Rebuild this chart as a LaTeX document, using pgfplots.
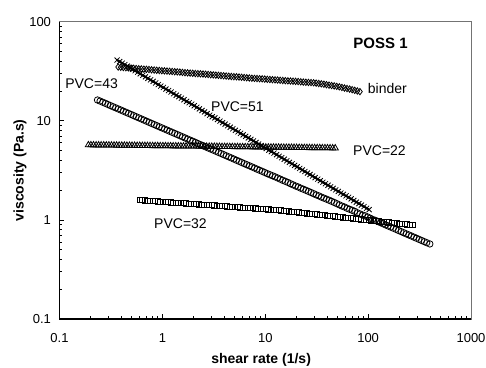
\documentclass[border=0pt]{standalone}
\usepackage{pgfplots}
\pgfplotsset{compat=1.18}
\usepackage{fontspec}
\setmainfont{Liberation Sans}
\begin{document}
\fontsize{13}{15}\selectfont
\begin{tikzpicture}
\begin{loglogaxis}[
  scale only axis,
  width=411.5pt, height=297.3pt,
  xmin=0.1, xmax=1000, ymin=0.1, ymax=100,
  xtick={0.1,1,10,100,1000}, xticklabels={0.1,1,10,100,1000},
  ytick={0.1,1,10,100}, yticklabels={0.1,1,10,100},
  tick align=inside, xtick pos=left, ytick pos=left,
  major tick length=5pt, minor tick length=3pt,
  tick style={black, line width=0.6pt},
  axis line style={draw=black!55, line width=0.8pt},
  xticklabel style={yshift=-10pt, font=\fontsize{13}{15}\selectfont},
  yticklabel style={xshift=-4pt, font=\fontsize{13}{15}\selectfont},
  /pgf/number format/assume math mode=true,
  xlabel={\bfseries shear rate (1/s)},
  ylabel={\bfseries viscosity (Pa.s)},
  xlabel style={at={(axis description cs:0.49,-0.138)}, anchor=center, font=\fontsize{14}{16}\selectfont},
  ylabel style={at={(axis description cs:-0.096,0.5)}, anchor=center, font=\fontsize{14}{16}\selectfont},
  clip=false,
]
% binder (diamonds)
\addplot[only marks, mark=diamond, mark size=3.2pt, mark options={line width=0.8pt}] coordinates {
(0.372,34.9)(0.417,34.5)(0.468,34.2)(0.525,33.9)(0.589,33.5)(0.661,33.2)(0.741,32.9)(0.832,32.5)
(0.933,32.2)(1.047,31.9)(1.175,31.6)(1.318,31.3)(1.479,31.0)(1.660,30.6)(1.862,30.3)(2.089,30.0)
(2.344,29.8)(2.630,29.5)(2.951,29.2)(3.311,28.9)(3.715,28.6)(4.169,28.3)(4.677,28.0)(5.248,27.8)
(5.888,27.5)(6.607,27.2)(7.413,26.9)(8.318,26.7)(9.333,26.5)(10.47,26.2)(11.75,26.0)(13.18,25.8)
(14.79,25.5)(16.60,25.3)(18.62,25.1)(20.89,24.9)(23.44,24.6)(26.30,24.4)(29.51,24.2)(33.11,23.8)
(37.15,23.4)(41.69,22.9)(46.77,22.5)(52.48,22.0)(58.88,21.4)(66.07,20.9)(74.13,20.3)(83.18,19.7)
(0.394,34.7)(0.442,34.35)(0.496,34.05)(0.556,33.7)(0.624,33.35)(0.700,33.05)(0.785,32.7)(0.881,32.35)
(0.988,32.05)(1.109,31.75)(1.245,31.45)(1.396,31.15)(1.567,30.8)(1.758,30.45)(1.972,30.15)(2.213,29.9)
(2.483,29.65)(2.786,29.35)(3.126,29.05)(3.507,28.75)(3.935,28.45)(4.416,28.15)(4.954,27.9)(5.559,27.65)
(6.237,27.35)(6.999,27.05)(7.853,26.8)(8.811,26.6)(9.886,26.35)(11.09,26.1)(12.45,25.9)(13.96,25.65)
(15.67,25.4)(17.58,25.2)(19.72,25.0)(22.13,24.75)(24.83,24.5)(27.86,24.3)(31.26,24.0)(35.07,23.6)
(39.35,23.15)(44.16,22.7)(49.54,22.25)(55.59,21.7)(62.37,21.15)(69.99,20.6)(78.53,20.0)
};
% PVC=51 line
\addplot[no marks, line width=2pt] coordinates {
(0.363,41.0)(0.912,23.2)(2.291,13.2)(5.754,7.48)(14.45,4.24)(36.31,2.40)(102.3,1.27)
};
% PVC=51 (x marks)
\addplot[only marks, mark=x, mark size=3.6pt, mark options={line width=0.8pt}] coordinates {
(0.363,41.0)(0.407,38.2)(0.457,35.6)(0.513,33.1)(0.575,30.9)(0.646,28.8)(0.724,26.8)(0.813,25.0)
(0.912,23.2)(1.023,21.7)(1.148,20.2)(1.288,18.8)(1.445,17.5)(1.622,16.3)(1.820,15.2)(2.042,14.2)
(2.291,13.2)(2.570,12.3)(2.884,11.4)(3.236,10.7)(3.631,9.93)(4.074,9.25)(4.571,8.61)(5.129,8.02)
(5.754,7.48)(6.457,6.97)(7.244,6.49)(8.128,6.04)(9.120,5.62)(10.23,5.25)(11.48,4.89)(12.88,4.55)
(14.45,4.24)(16.22,3.95)(18.20,3.68)(20.42,3.43)(22.91,3.19)(25.70,2.97)(28.84,2.77)(32.36,2.58)
(36.31,2.40)(40.74,2.24)(45.71,2.08)(51.29,1.94)(57.54,1.81)(64.57,1.69)(72.44,1.57)(81.28,1.46)
(91.20,1.36)(102.3,1.27)
(0.385,39.6)(0.431,36.9)(0.484,34.3)(0.543,32.0)(0.609,29.8)(0.684,27.8)(0.767,25.9)(0.861,24.1)
(0.966,22.4)(1.084,20.9)(1.216,19.5)(1.364,18.1)(1.531,16.9)(1.718,15.7)(1.928,14.7)(2.163,13.7)
(2.427,12.7)(2.722,11.8)(3.055,11.0)(3.428,10.3)(3.846,9.58)(4.316,8.92)(4.842,8.31)(5.433,7.74)
(6.095,7.22)(6.840,6.72)(7.674,6.26)(8.610,5.83)(9.661,5.43)(10.84,5.06)(12.16,4.72)(13.64,4.39)
(15.31,4.09)(17.18,3.81)(19.28,3.55)(21.63,3.31)(24.27,3.08)(27.22,2.87)(30.55,2.67)(34.28,2.49)
(38.46,2.32)(43.16,2.16)(48.42,2.01)(54.33,1.87)(60.95,1.75)(68.40,1.63)(76.74,1.51)(86.10,1.41)
(96.61,1.31)
};
% PVC=43 (circles)
\addplot[only marks, mark=o, mark size=3.2pt, mark options={line width=0.8pt}] coordinates {
(0.234,16.22)(0.263,15.40)(0.295,14.62)(0.331,13.88)(0.372,13.18)(0.417,12.52)(0.468,11.89)(0.525,11.29)
(0.589,10.72)(0.661,10.17)(0.741,9.66)(0.832,9.17)(0.933,8.71)(1.047,8.27)(1.175,7.85)(1.318,7.46)
(1.479,7.08)(1.660,6.72)(1.862,6.38)(2.089,6.06)(2.344,5.75)(2.630,5.46)(2.951,5.19)(3.311,4.93)
(3.715,4.68)(4.169,4.44)(4.677,4.22)(5.248,4.00)(5.888,3.80)(6.607,3.61)(7.413,3.43)(8.318,3.25)
(9.333,3.09)(10.47,2.93)(11.75,2.79)(13.18,2.65)(14.79,2.51)(16.60,2.39)(18.62,2.26)(20.89,2.15)
(23.44,2.04)(26.30,1.94)(29.51,1.84)(33.11,1.75)(37.15,1.66)(41.69,1.58)(46.77,1.50)(52.48,1.42)
(58.88,1.35)(66.07,1.28)(74.13,1.22)(83.18,1.15)(93.33,1.10)(104.7,1.04)(117.5,0.989)(131.8,0.939)
(147.9,0.891)(166.0,0.846)(186.2,0.804)(208.9,0.763)(234.4,0.724)(263.0,0.688)(295.1,0.653)(331.1,0.620)
(371.5,0.589)(398.0,0.572)
(0.248,15.81)(0.279,15.01)(0.312,14.25)(0.351,13.53)(0.394,12.85)(0.442,12.2)(0.496,11.59)(0.556,11.0)
(0.624,10.44)(0.700,9.91)(0.785,9.41)(0.881,8.94)(0.988,8.49)(1.109,8.06)(1.245,7.65)(1.396,7.27)
(1.567,6.90)(1.758,6.55)(1.972,6.22)(2.213,5.90)(2.483,5.60)(2.786,5.32)(3.126,5.06)(3.507,4.80)
(3.935,4.56)(4.416,4.33)(4.954,4.11)(5.559,3.90)(6.237,3.70)(6.999,3.52)(7.853,3.34)(8.811,3.17)
(9.886,3.01)(11.09,2.86)(12.45,2.72)(13.96,2.58)(15.67,2.45)(17.58,2.32)(19.72,2.20)(22.13,2.09)
(24.83,1.99)(27.86,1.89)(31.26,1.79)(35.07,1.70)(39.35,1.62)(44.16,1.54)(49.54,1.46)(55.59,1.38)
(62.37,1.31)(69.99,1.25)(78.53,1.18)(88.11,1.12)(98.86,1.07)(110.9,1.01)(124.5,0.964)(139.6,0.915)
(156.7,0.868)(175.8,0.825)(197.2,0.783)(221.3,0.743)(248.3,0.706)(278.6,0.670)(312.6,0.636)(350.7,0.604)
};
% PVC=22 (triangles)
\addplot[only marks, mark=triangle, mark size=3.6pt, mark options={line width=0.8pt}] coordinates {
(0.191,5.70)(0.214,5.69)(0.240,5.68)(0.269,5.68)(0.302,5.67)(0.339,5.66)(0.380,5.65)(0.427,5.64)
(0.479,5.63)(0.537,5.63)(0.603,5.62)(0.676,5.61)(0.759,5.60)(0.851,5.59)(0.955,5.58)(1.072,5.58)
(1.202,5.57)(1.349,5.56)(1.514,5.55)(1.698,5.54)(1.905,5.53)(2.138,5.53)(2.399,5.52)(2.692,5.51)
(3.020,5.50)(3.388,5.49)(3.802,5.48)(4.266,5.48)(4.786,5.47)(5.370,5.46)(6.026,5.45)(6.761,5.44)
(7.586,5.43)(8.511,5.43)(9.550,5.42)(10.72,5.41)(12.02,5.40)(13.49,5.39)(15.14,5.38)(16.98,5.38)
(19.05,5.37)(21.38,5.36)(23.99,5.35)(26.92,5.34)(30.20,5.33)(33.88,5.33)(38.02,5.32)(42.66,5.31)
(47.86,5.30)
(0.202,5.70)(0.227,5.68)(0.254,5.68)(0.285,5.67)(0.320,5.66)(0.359,5.65)(0.403,5.64)(0.452,5.63)
(0.507,5.63)(0.569,5.62)(0.639,5.61)(0.716,5.60)(0.804,5.59)(0.901,5.59)(1.012,5.58)(1.136,5.57)
(1.273,5.56)(1.429,5.55)(1.604,5.54)(1.799,5.54)(2.018,5.53)(2.265,5.52)(2.541,5.51)(2.852,5.50)
(3.199,5.50)(3.589,5.49)(4.027,5.48)(4.519,5.47)(5.070,5.46)(5.688,5.45)(6.383,5.45)(7.162,5.44)
(8.036,5.43)(9.016,5.42)(10.12,5.41)(11.36,5.40)(12.73,5.40)(14.29,5.39)(16.04,5.38)(17.99,5.37)
(20.18,5.36)(22.65,5.35)(25.41,5.35)(28.52,5.34)(31.99,5.33)(35.89,5.32)(40.27,5.31)(45.19,5.30)
};
% PVC=32 (squares)
\addplot[only marks, mark=square, mark size=2.6pt, mark options={line width=0.8pt}] coordinates {
(0.603,1.585)(0.676,1.571)(0.759,1.558)(0.851,1.544)(0.955,1.531)(1.072,1.518)(1.202,1.504)(1.349,1.492)
(1.514,1.479)(1.698,1.466)(1.905,1.454)(2.138,1.441)(2.399,1.429)(2.692,1.417)(3.020,1.405)(3.388,1.393)
(3.802,1.380)(4.266,1.369)(4.786,1.357)(5.370,1.345)(6.026,1.334)(6.761,1.322)(7.586,1.311)(8.511,1.300)
(9.550,1.288)(10.72,1.277)(12.02,1.266)(13.49,1.254)(15.14,1.237)(16.98,1.221)(19.05,1.205)(21.38,1.189)
(23.99,1.173)(26.92,1.158)(30.20,1.143)(33.88,1.128)(38.02,1.113)(42.66,1.098)(47.86,1.084)(53.70,1.070)
(60.26,1.055)(67.61,1.041)(75.86,1.028)(85.11,1.014)(95.50,1.001)(107.2,0.988)(120.2,0.975)(134.9,0.962)
(151.4,0.949)(169.8,0.937)(190.5,0.924)(213.8,0.912)(239.9,0.900)(269.2,0.889)
(0.639,1.578)(0.716,1.564)(0.804,1.551)(0.901,1.537)(1.012,1.524)(1.136,1.511)(1.273,1.498)(1.429,1.485)
(1.604,1.472)(1.799,1.460)(2.018,1.447)(2.265,1.435)(2.541,1.423)(2.852,1.411)(3.199,1.399)(3.589,1.386)
(4.027,1.374)(4.519,1.363)(5.070,1.351)(5.688,1.339)(6.383,1.328)(7.162,1.316)(8.036,1.305)(9.016,1.294)
(10.12,1.282)(11.36,1.271)(12.73,1.260)(14.29,1.245)(16.04,1.229)(17.99,1.213)(20.18,1.197)(22.65,1.181)
(25.41,1.165)(28.52,1.150)(31.99,1.135)(35.89,1.120)(40.27,1.105)(45.19,1.091)(50.70,1.077)(56.88,1.062)
(63.83,1.048)(71.62,1.034)(80.36,1.021)(90.16,1.007)(101.2,0.994)(113.6,0.981)(127.3,0.968)(142.9,0.955)
(160.4,0.943)(179.9,0.930)(201.8,0.918)(226.5,0.906)(254.1,0.894)
};
\draw[black, line width=1.1pt] (rel axis cs:0,1) -- (rel axis cs:0,0) -- (rel axis cs:1,0);
\node[font=\fontsize{14}{16}\selectfont] at (axis cs:0.205,23.5) {PVC=43};
\node[font=\fontsize{14}{16}\selectfont] at (axis cs:5.37,13.8) {PVC=51};
\node[font=\fontsize{14}{16}\selectfont] at (axis cs:154,21.4) {binder};
\node[font=\fontsize{14}{16}\selectfont] at (axis cs:129,4.96) {PVC=22};
\node[font=\fontsize{14}{16}\selectfont] at (axis cs:1.50,0.925) {PVC=32};
\node[font=\bfseries\fontsize{15}{17}\selectfont] at (axis cs:132,61) {POSS 1};
\end{loglogaxis}
\pgfresetboundingbox
\path[use as bounding box] ([xshift=-59.5pt,yshift=-48pt]current axis.south west) rectangle ([xshift=15pt,yshift=21.7pt]current axis.north east);
\end{tikzpicture}
\end{document}
